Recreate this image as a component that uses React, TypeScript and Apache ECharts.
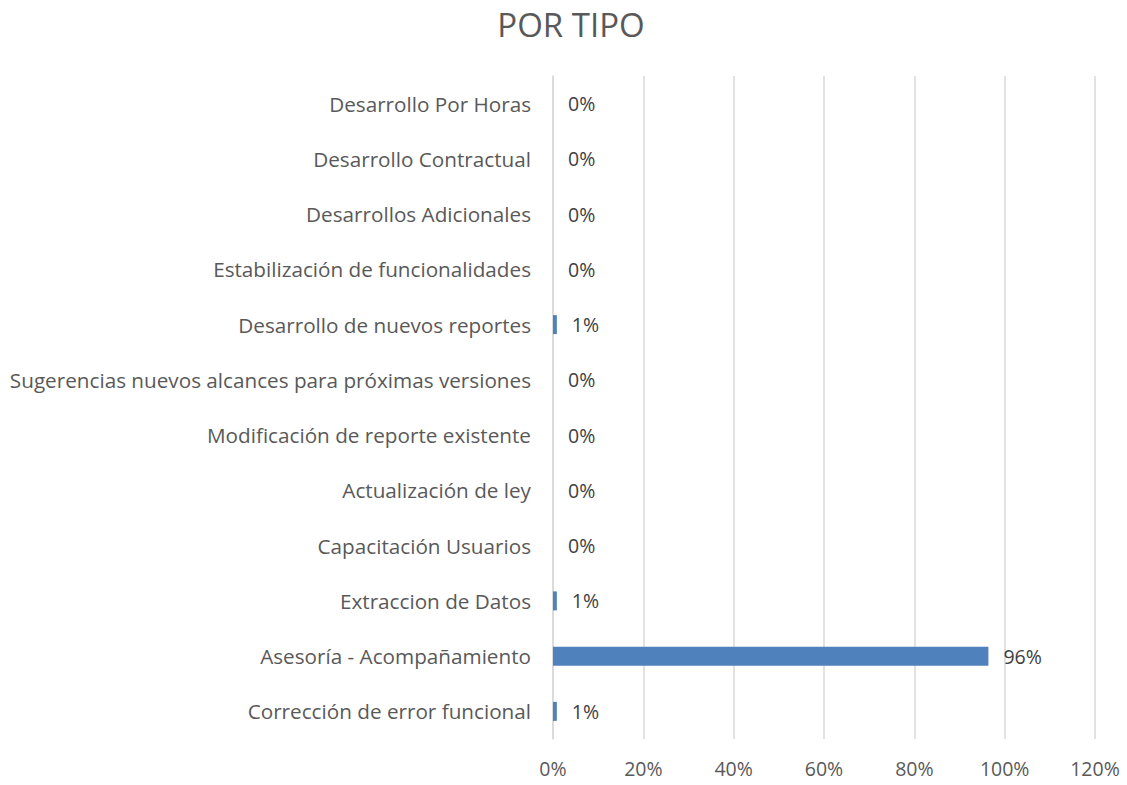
import React, { useEffect, useRef } from "react";
import * as echarts from "echarts";

const categories = [
  "Corrección de error funcional",
  "Asesoría - Acompañamiento",
  "Extraccion de Datos",
  "Capacitación Usuarios",
  "Actualización de ley",
  "Modificación de reporte existente",
  "Sugerencias nuevos alcances para próximas versiones",
  "Desarrollo de nuevos reportes",
  "Estabilización de funcionalidades",
  "Desarrollos Adicionales",
  "Desarrollo Contractual",
  "Desarrollo Por Horas",
];
const values = [0.0085, 0.964, 0.0085, 0, 0, 0, 0, 0.0085, 0, 0, 0, 0];
const xTicks = [0, 0.2, 0.4, 0.6, 0.8, 1.0, 1.2];
const titleText = "POR TIPO";

const FONT = "'Open Sans', 'Noto Sans', sans-serif";

export default function App() {
  const ref = useRef<HTMLDivElement>(null);
  useEffect(() => {
    if (!ref.current) return;
    const chart = echarts.init(ref.current, null, { renderer: "svg" });
    chart.setOption({
      animation: false,
      graphic: [
        {
          type: "text",
          x: 571,
          y: 24,
          style: {
            text: titleText,
            fontFamily: FONT,
            fontSize: 33,
            fill: "#595959",
            textAlign: "center",
            textVerticalAlign: "middle",
          },
        },
      ],
      grid: { left: 553, right: 32, top: 76, bottom: 46 },
      xAxis: {
        type: "value",
        min: xTicks[0],
        max: xTicks[xTicks.length - 1],
        interval: 0.2,
        axisLabel: {
          formatter: (v: number) => Math.round(v * 100) + "%",
          fontFamily: FONT,
          fontSize: 19.5,
          color: "#595959",
          margin: 19,
        },
        axisLine: { show: false },
        axisTick: { show: false },
        splitLine: { lineStyle: { color: "#d9d9d9", width: 1.5 } },
      },
      yAxis: {
        type: "category",
        data: categories,
        axisLabel: { fontFamily: FONT, fontSize: 20.7, color: "#595959", margin: 22 },
        axisLine: { show: true, lineStyle: { color: "#d9d9d9", width: 1.5 } },
        axisTick: { show: false },
      },
      series: [
        {
          type: "bar",
          data: values,
          barWidth: 19,
          itemStyle: { color: "#4f81bd" },
          label: {
            show: true,
            position: "right",
            distance: 15,
            formatter: (p: any) => Math.round(p.value * 100) + "%",
            fontFamily: FONT,
            fontSize: 19.5,
            color: "#404040",
          },
        },
      ],
    });
    return () => chart.dispose();
  }, []);
  return (
    <div
      ref={ref}
      style={{ position: "absolute", left: 0, top: 0, width: 1127, height: 785 }}
    />
  );
}
